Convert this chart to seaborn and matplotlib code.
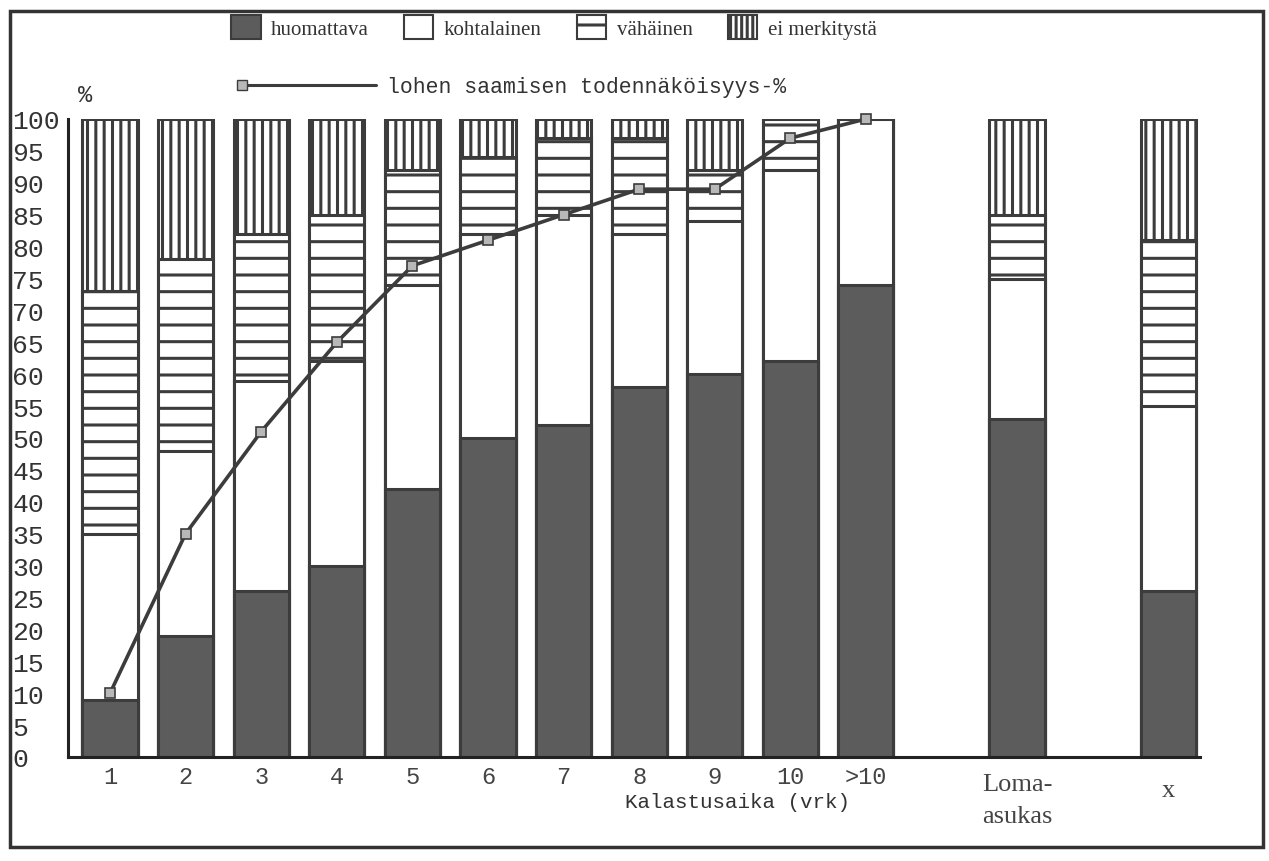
import pandas as pd
import matplotlib.pyplot as plt
import matplotlib.patches as mpatches
from matplotlib.lines import Line2D
from matplotlib.legend_handler import HandlerLine2D
import seaborn as sns

# Categories (empty strings keep the gaps between groups)
categories = ['1', '2', '3', '4', '5', '6', '7', '8', '9', '10', '>10', '', 'Loma-\nasukas', ' ', 'x']
bar_cats = ['1', '2', '3', '4', '5', '6', '7', '8', '9', '10', '>10', 'Loma-\nasukas', 'x']

# Share of answers (%) per category
huomattava = [9, 19, 26, 30, 42, 50, 52, 58, 60, 62, 74, 53, 26]
kohtalainen = [26, 29, 33, 32, 32, 32, 33, 24, 24, 30, 26, 22, 29]
vahainen = [38, 30, 23, 23, 18, 12, 12, 15, 8, 8, 0, 10, 26]
ei_merkitysta = [27, 22, 18, 15, 8, 6, 3, 3, 8, 0, 0, 15, 19]

# Probability of catching a salmon (%), days 1..>10
line_cats = ['1', '2', '3', '4', '5', '6', '7', '8', '9', '10', '>10']
todennakoisyys = [10, 35, 51, 65, 77, 81, 85, 89, 89, 97, 100]

df = pd.DataFrame({'cat': bar_cats, 'h': huomattava, 'k': kohtalainen,
                   'v': vahainen, 'e': ei_merkitysta})
df['c1'] = df['h']
df['c2'] = df['c1'] + df['k']
df['c3'] = df['c2'] + df['v']
df['c4'] = df['c3'] + df['e']

sns.set_style('white')
plt.rcParams['font.family'] = ['Liberation Mono', 'DejaVu Sans']
plt.rcParams['hatch.linewidth'] = 2.2
plt.rcParams['hatch.color'] = '#3c3c3c'

edge = '#3c3c3c'
dark = '#5c5c5c'
txt = '#333333'


# legend line with the marker at its left end, as in the original
class LeftMarkerHandler(HandlerLine2D):
    def create_artists(self, *args, **kwargs):
        artists = super().create_artists(*args, **kwargs)
        for a in artists:
            a.set_markevery([0])
        return artists


fig = plt.figure(figsize=(12.69, 8.62), dpi=100)
ax = fig.add_axes([68 / 1269, 104 / 862, (1200 - 68) / 1269, 638 / 862])

# stacked bars drawn as overlapping cumulative bars (tallest first)
layers = [('c4', 'white', '||'), ('c3', 'white', '-'), ('c2', 'white', None), ('c1', dark, None)]
for col, fc, hatch in layers:
    sns.barplot(data=df, x='cat', y=col, order=categories, color=fc, saturation=1,
                width=0.73, edgecolor=edge, linewidth=2.2, hatch=hatch,
                errorbar=None, ax=ax)

line_df = pd.DataFrame({'cat': line_cats, 'p': todennakoisyys})
ax.plot(line_df['cat'], line_df['p'], color=edge, lw=2.6, marker='s', ms=7,
        mfc='#b8b8b8', mec=edge, mew=1.2, clip_on=False, zorder=5)

ax.set_xlim(-0.556, 14.42)
ax.set_ylim(0, 100)
ax.set_yticks(range(0, 101, 5))
ax.set_yticklabels([str(v) for v in range(0, 101, 5)], fontsize=19, color=txt, ha='left')
ax.tick_params(axis='y', direction='in', length=8, width=2, color=edge, pad=40)

# numeric day labels as tick labels, the two last groups as separate serif texts
day_labels = [c if c in line_cats else '' for c in categories]
ax.set_xticks(range(len(categories)))
ax.set_xticklabels(day_labels, fontsize=17, color='#444444')
ax.tick_params(axis='x', length=0, pad=6)
ax.set_xticks([i + 0.5 for i in range(14)], minor=True)
ax.tick_params(axis='x', which='minor', direction='in', length=7, width=2, color=edge)

xt = ax.get_xaxis_transform()
ax.text(categories.index('Loma-\nasukas'), -16 / 638, 'Loma-\nasukas', transform=xt,
        ha='center', va='top', fontsize=19, family='Liberation Serif', color='#444444',
        linespacing=1.6)
ax.text(categories.index('x'), -33 / 638, 'x', transform=xt, ha='center', va='center',
        fontsize=19, family='Liberation Serif', color='#444444')

ax.set_xlabel('')
ax.set_ylabel('')
for s in ['top', 'right']:
    ax.spines[s].set_visible(False)
for s in ['left', 'bottom']:
    ax.spines[s].set_color('#222222')
    ax.spines[s].set_linewidth(2.2)

fig.text(78 / 1269, 1 - 95 / 862, '%', fontsize=17, color=txt, ha='left', va='center')
fig.text(738 / 1269, 1 - 803 / 862, 'Kalastusaika (vrk)', fontsize=15, color=txt,
         ha='center', va='center')

handles = [
    mpatches.Patch(facecolor=dark, edgecolor=edge, lw=1.5, label='huomattava'),
    mpatches.Patch(facecolor='white', edgecolor=edge, lw=1.5, label='kohtalainen'),
    mpatches.Patch(facecolor='white', edgecolor=edge, lw=1.5, hatch='-', label='vähäinen'),
    mpatches.Patch(facecolor='white', edgecolor=edge, lw=1.5, hatch='|||', label='ei merkitystä'),
]
leg1 = fig.legend(handles=handles, loc='center', bbox_to_anchor=(554 / 1269, 1 - 28 / 862),
                  ncol=4, frameon=False, prop={'family': 'Liberation Serif', 'size': 15},
                  handlelength=1.4, handleheight=1.4, handletextpad=0.5, columnspacing=1.7)
for t in leg1.get_texts():
    t.set_color(txt)

line_handle = Line2D([0], [0], color=edge, lw=2.2, marker='s', ms=7, mfc='#b8b8b8',
                     mec=edge)
leg2 = fig.legend(handles=[line_handle], labels=['lohen saamisen todennäköisyys-%'],
                  loc='center', bbox_to_anchor=(514 / 1269, 1 - 88 / 862), frameon=False,
                  prop={'family': 'Liberation Mono', 'size': 15.5}, handlelength=6.2,
                  handletextpad=0.5, handler_map={Line2D: LeftMarkerHandler()})
for t in leg2.get_texts():
    t.set_color(txt)

# scanned page frame
fig.patches.append(mpatches.Rectangle((10 / 1269, 14 / 862), 1253 / 1269, 836 / 862,
                                      transform=fig.transFigure, fill=False,
                                      edgecolor=txt, lw=2.5))

fig.savefig('out.png', dpi=100)
